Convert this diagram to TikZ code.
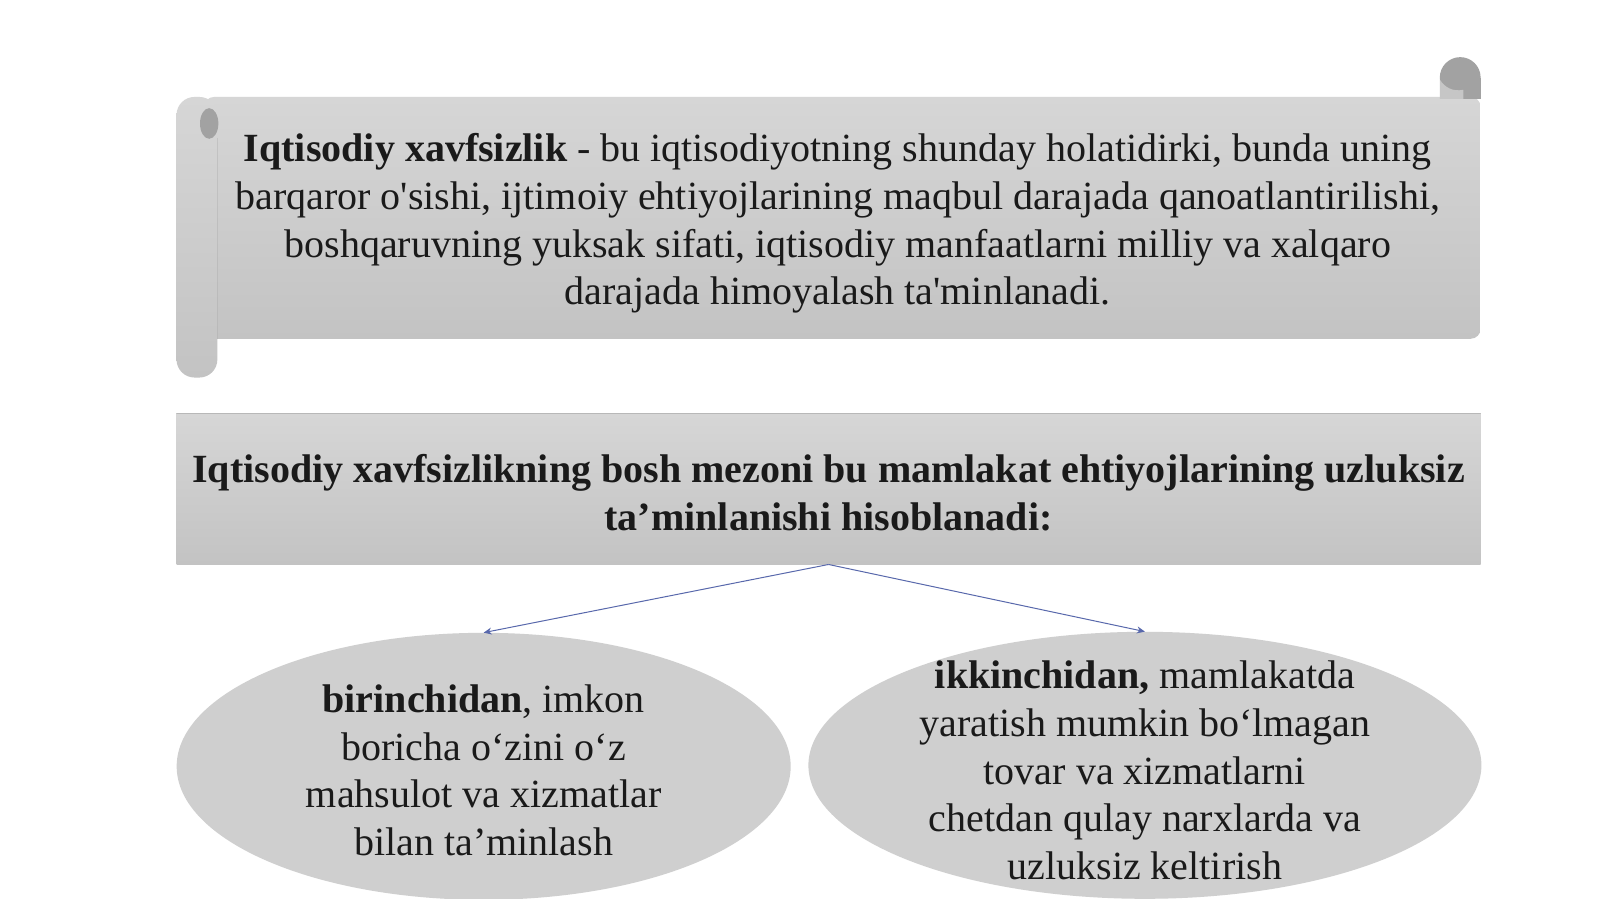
\documentclass[tikz,border=0pt]{standalone}
\usepackage{fontspec}
\setmainfont{Liberation Serif}
\usetikzlibrary{shapes.geometric,arrows.meta}
\definecolor{txt}{HTML}{1A1A1A}
\definecolor{topg}{HTML}{D6D6D6}
\definecolor{botg}{HTML}{C3C3C3}
\definecolor{curlg}{HTML}{A2A2A2}
\definecolor{rollg}{HTML}{C6C6C6}
\definecolor{ellg}{HTML}{CFCFCF}
\definecolor{arr}{RGB}{88,104,172}
\tikzset{
  bodytext/.style={font=\fontsize{40}{47.6}\selectfont, text=txt, align=center, inner sep=0pt},
  panel/.style={top color=topg, bottom color=botg, draw=none},
  oval/.style={ellipse, draw=none, fill=ellg, inner sep=0pt},
  link/.style={draw=arr, line width=1pt, -{Stealth[length=8pt,width=7pt]}}
}
\begin{document}
\begin{tikzpicture}[x=1.0204pt,y=-1.0204pt]
\useasboundingbox[fill=white] (0,0) rectangle (1568,881);
% scroll
\shade[panel, rounded corners=10pt] (200,95) rectangle (1451,332);
\shade[rounded corners=18pt, top color=topg, bottom color=botg] (173,95) rectangle (213,370);
\draw[botg!85!black, line width=0.6pt, opacity=0.35] (213,135) -- (213,332);
\fill[curlg] (205,121) ellipse (9 and 15);
\fill[curlg] (1431,76) circle (20);
\fill[curlg] (1431,76) rectangle (1451,97);
\fill[rollg] (1411,78) -- (1411,97) -- (1434,97) -- (1434,88) .. controls (1424,90) and (1416,86) .. (1411,78) -- cycle;
\node[bodytext] (def) at (821,219) {\textbf{Iqtisodiy xavfsizlik} - bu iqtisodiyotning shunday holatidirki, bunda uning\\
barqaror o\textquotesingle sishi, ijtimoiy ehtiyojlarining maqbul darajada qanoatlantirilishi,\\
boshqaruvning yuksak sifati, iqtisodiy manfaatlarni milliy va xalqaro\\
darajada himoyalash ta\textquotesingle minlanadi.};
% criterion box
\node[panel, minimum width=1304pt, minimum height=151pt, inner sep=0pt] (crit) at (812,479) {};
\draw[botg!80!black, line width=0.6pt, opacity=0.5] (crit.north west) -- (crit.north east);
\node[bodytext, font=\fontsize{40}{47.6}\selectfont\bfseries] (crittext) at (812,483) {Iqtisodiy xavfsizlikning bosh mezoni bu mamlakat ehtiyojlarining uzluksiz\\ ta’minlanishi hisoblanadi:};
% ellipses
\node[oval, minimum width=614pt, minimum height=267pt] (first) at (474,751) {};
\node[oval, minimum width=673pt, minimum height=267pt] (second) at (1122,750) {};
\node[bodytext] (firsttext) at (474,755) {\textbf{birinchidan}, imkon\\ boricha o‘zini o‘z\\ mahsulot va xizmatlar\\ bilan ta’minlash};
\node[bodytext] (secondtext) at (1122,755) {\textbf{ikkinchidan,} mamlakatda\\ yaratish mumkin bo‘lmagan\\ tovar va xizmatlarni\\ chetdan qulay narxlarda va\\ uzluksiz keltirish};
% connectors
\draw[link] (crit.south) -- (first.north);
\draw[link] (crit.south) -- (second.north);
\end{tikzpicture}
\end{document}
